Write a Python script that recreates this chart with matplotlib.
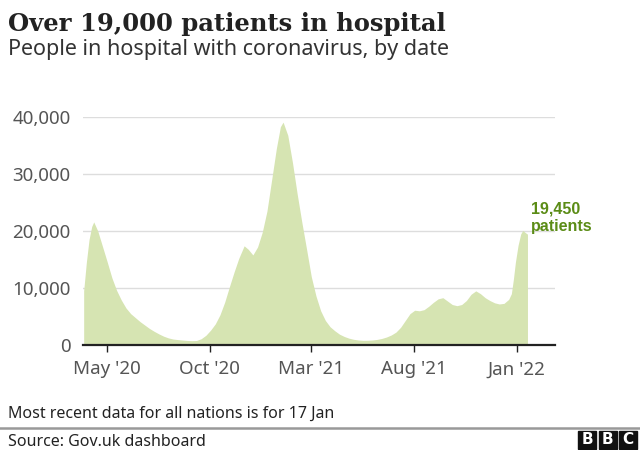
import matplotlib
matplotlib.use("Agg")
import matplotlib.pyplot as plt
import matplotlib.dates as mdates
from matplotlib.patches import Rectangle
from matplotlib.lines import Line2D
import datetime as dt

# ---- data ----
dates = [
    "2020-03-27", "2020-03-31", "2020-04-04", "2020-04-08", "2020-04-11", "2020-04-17",
    "2020-04-24", "2020-05-01", "2020-05-08", "2020-05-15", "2020-05-22", "2020-05-29",
    "2020-06-05", "2020-06-12", "2020-06-19", "2020-06-26", "2020-07-03", "2020-07-10",
    "2020-07-17", "2020-07-24", "2020-07-31", "2020-08-07", "2020-08-14", "2020-08-21",
    "2020-08-28", "2020-09-04", "2020-09-11", "2020-09-18", "2020-09-25", "2020-10-02",
    "2020-10-09", "2020-10-16", "2020-10-23", "2020-10-30", "2020-11-06", "2020-11-13",
    "2020-11-21", "2020-11-27", "2020-12-04", "2020-12-11", "2020-12-18", "2020-12-25",
    "2021-01-01", "2021-01-08", "2021-01-14", "2021-01-18", "2021-01-25", "2021-02-01",
    "2021-02-08", "2021-02-15", "2021-02-22", "2021-03-01", "2021-03-08", "2021-03-15",
    "2021-03-22", "2021-03-29", "2021-04-05", "2021-04-12", "2021-04-19", "2021-04-26",
    "2021-05-03", "2021-05-10", "2021-05-17", "2021-05-24", "2021-05-31", "2021-06-07",
    "2021-06-14", "2021-06-21", "2021-06-28", "2021-07-05", "2021-07-12", "2021-07-19",
    "2021-07-26", "2021-08-02", "2021-08-09", "2021-08-16", "2021-08-23", "2021-08-30",
    "2021-09-06", "2021-09-13", "2021-09-20", "2021-09-27", "2021-10-04", "2021-10-11",
    "2021-10-18", "2021-10-25", "2021-11-01", "2021-11-08", "2021-11-15", "2021-11-22",
    "2021-11-29", "2021-12-06", "2021-12-13", "2021-12-20", "2021-12-24", "2021-12-27",
    "2021-12-30", "2022-01-03", "2022-01-07", "2022-01-10", "2022-01-14", "2022-01-17",
]
patients = [
    9500, 14500, 18500, 20800, 21600, 20000,
    17300, 14600, 11800, 9600, 7900, 6500,
    5500, 4800, 4100, 3500, 2900, 2400,
    1950, 1550, 1250, 1050, 950, 870,
    800, 760, 790, 1100, 1700, 2600,
    3700, 5300, 7500, 10200, 12800, 15200,
    17400, 16800, 15800, 17200, 19800, 23500,
    29000, 34500, 38300, 39100, 36800, 32000,
    26500, 21500, 16800, 12000, 8600, 6000,
    4300, 3200, 2500, 1900, 1500, 1200,
    1000, 880, 820, 830, 880, 980,
    1150, 1400, 1750, 2250, 3100, 4300,
    5500, 6100, 6000, 6200, 6800, 7500,
    8100, 8300, 7700, 7100, 6900, 7100,
    7800, 8900, 9500, 9000, 8300, 7800,
    7400, 7200, 7300, 8000, 9000, 11500,
    14500, 17500, 19500, 20100, 19700, 19450,
]
tick_dates = ["2020-05-01", "2020-10-01", "2021-03-01", "2021-08-01", "2022-01-01"]
tick_labels = ["May '20", "Oct '20", "Mar '21", "Aug '21", "Jan '22"]
y_ticks = [0, 10000, 20000, 30000, 40000]
y_tick_labels = ["0", "10,000", "20,000", "30,000", "40,000"]
latest_label = "19,450\npatients"

title = "Over 19,000 patients in hospital"
subtitle = "People in hospital with coronavirus, by date"
note = "Most recent data for all nations is for 17 Jan"
source = "Source: Gov.uk dashboard"

# ---- drawing ----
W, H = 640, 450
fig = plt.figure(figsize=(6.4, 4.5), dpi=100)
fig.patch.set_facecolor("white")

def fx(px):
    return px / W

def fy(py):
    return 1 - py / H

ax = fig.add_axes([fx(83), fy(345), fx(555) - fx(83), fy(117) - fy(345)])
x = [mdates.date2num(dt.date.fromisoformat(d)) for d in dates]
ax.fill_between(x, 0, patients, color="#d6e4b2", linewidth=0, zorder=2)

ax.set_ylim(0, 40000)
ax.set_xlim(mdates.date2num(dt.date(2020, 3, 26)), mdates.date2num(dt.date(2022, 2, 27)))
ax.set_yticks(y_ticks)
ax.set_yticklabels(y_tick_labels)
ax.set_xticks([mdates.date2num(dt.date.fromisoformat(d)) for d in tick_dates])
ax.set_xticklabels(tick_labels)

for s in ["left", "right", "top"]:
    ax.spines[s].set_visible(False)
ax.spines["bottom"].set_color("#222222")
ax.spines["bottom"].set_linewidth(1.6)
ax.spines["bottom"].set_zorder(5)
ax.grid(axis="y", color="#dddddd", linewidth=1.0, zorder=0)
ax.set_axisbelow(True)
ax.tick_params(axis="y", length=0, pad=9, labelsize=13.5, labelcolor="#555555")
ax.tick_params(axis="x", length=5, width=1, color="#222222", pad=6,
               labelsize=13.5, labelcolor="#555555")
for lab in ax.get_xticklabels() + ax.get_yticklabels():
    lab.set_fontfamily("Noto Sans")

ax.text(mdates.date2num(dt.date(2022, 1, 22)), 25200, latest_label,
        color="#5b8c16", fontsize=11.5, fontweight="bold", family="Liberation Sans",
        ha="left", va="top", linespacing=1.2)

# titles
fig.text(fx(8), fy(31), title, fontsize=17.5, fontweight="bold", family="DejaVu Serif",
         color="#222222", ha="left", va="baseline")
fig.text(fx(8), fy(55), subtitle, fontsize=15.5, family="Noto Sans",
         color="#333333", ha="left", va="baseline")

# footer
fig.text(fx(8), fy(418), note, fontsize=11.5, family="Noto Sans", color="#222222",
         ha="left", va="baseline")
fig.add_artist(Line2D([0, 1], [fy(428), fy(428)], color="#999999", linewidth=1.8,
                      transform=fig.transFigure))
fig.text(fx(8), fy(446), source, fontsize=11.5, family="Noto Sans", color="#222222",
         ha="left", va="baseline")

# BBC blocks
for i, letter in enumerate("BBC"):
    x0 = 578 + i * 20.5
    fig.add_artist(Rectangle((fx(x0), fy(449)), fx(18), fy(431) - fy(449),
                             transform=fig.transFigure, color="#111111"))
    fig.text(fx(x0 + 9), fy(440), letter, fontsize=11, fontweight="bold",
             family="DejaVu Sans", color="white", ha="center", va="center")

fig.savefig("out.png", dpi=100, facecolor="white")
